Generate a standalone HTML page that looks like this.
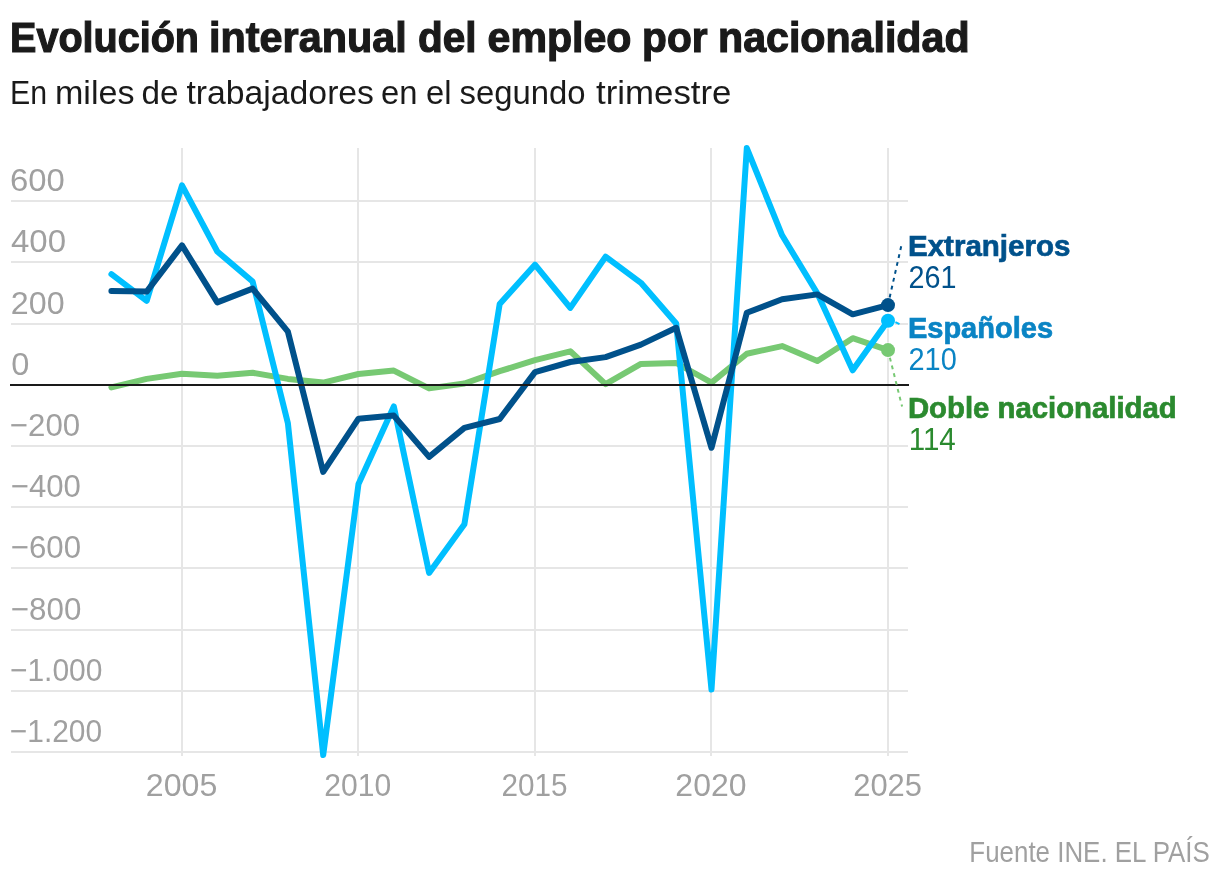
<!DOCTYPE html>
<html lang="es"><head><meta charset="utf-8"><title>Evolución interanual del empleo por nacionalidad</title>
<style>
html,body{margin:0;padding:0;background:#fff;}
body{width:1220px;height:882px;overflow:hidden;font-family:"Liberation Sans",Arial,sans-serif;}
svg{display:block;}
text{font-family:"Liberation Sans",Arial,sans-serif;}
.b{font-weight:bold;}
</style></head><body>
<svg width="1220" height="882" viewBox="0 0 1220 882">
<rect width="1220" height="882" fill="#fff"/>
<text x="10.00" y="52.00" font-size="43" fill="#1a1a1a" class="b" stroke="#1a1a1a" stroke-width="1.2" textLength="189.00" lengthAdjust="spacingAndGlyphs">Evolución</text>
<text x="209.05" y="52.00" font-size="43" fill="#1a1a1a" class="b" stroke="#1a1a1a" stroke-width="1.2" textLength="197.59" lengthAdjust="spacingAndGlyphs">interanual</text>
<text x="417.97" y="52.00" font-size="43" fill="#1a1a1a" class="b" stroke="#1a1a1a" stroke-width="1.2" textLength="58.56" lengthAdjust="spacingAndGlyphs">del</text>
<text x="487.52" y="52.00" font-size="43" fill="#1a1a1a" class="b" stroke="#1a1a1a" stroke-width="1.2" textLength="143.96" lengthAdjust="spacingAndGlyphs">empleo</text>
<text x="642.09" y="52.00" font-size="43" fill="#1a1a1a" class="b" stroke="#1a1a1a" stroke-width="1.2" textLength="65.49" lengthAdjust="spacingAndGlyphs">por</text>
<text x="718.02" y="52.00" font-size="43" fill="#1a1a1a" class="b" stroke="#1a1a1a" stroke-width="1.2" textLength="251.52" lengthAdjust="spacingAndGlyphs">nacionalidad</text>
<text x="9.98" y="104.00" font-size="34" fill="#1a1a1a" textLength="37.07" lengthAdjust="spacingAndGlyphs">En</text>
<text x="55.00" y="104.00" font-size="34" fill="#1a1a1a" textLength="79.49" lengthAdjust="spacingAndGlyphs">miles</text>
<text x="141.54" y="104.00" font-size="34" fill="#1a1a1a" textLength="37.02" lengthAdjust="spacingAndGlyphs">de</text>
<text x="186.50" y="104.00" font-size="34" fill="#1a1a1a" textLength="187.48" lengthAdjust="spacingAndGlyphs">trabajadores</text>
<text x="381.00" y="104.00" font-size="34" fill="#1a1a1a" textLength="36.47" lengthAdjust="spacingAndGlyphs">en</text>
<text x="426.00" y="104.00" font-size="34" fill="#1a1a1a" textLength="25.48" lengthAdjust="spacingAndGlyphs">el</text>
<text x="459.51" y="104.00" font-size="34" fill="#1a1a1a" textLength="125.97" lengthAdjust="spacingAndGlyphs">segundo</text>
<text x="596.00" y="104.00" font-size="34" fill="#1a1a1a" textLength="135.44" lengthAdjust="spacingAndGlyphs">trimestre</text>
<rect x="181" y="148" width="2" height="608" fill="#e6e6e6"/>
<rect x="357" y="148" width="2" height="608" fill="#e6e6e6"/>
<rect x="534" y="148" width="2" height="608" fill="#e6e6e6"/>
<rect x="710" y="148" width="2" height="608" fill="#e6e6e6"/>
<rect x="887" y="148" width="2" height="608" fill="#e6e6e6"/>
<rect x="11" y="200" width="897" height="2" fill="#e6e6e6"/>
<rect x="11" y="261" width="897" height="2" fill="#e6e6e6"/>
<rect x="11" y="323" width="897" height="2" fill="#e6e6e6"/>
<rect x="11" y="445" width="897" height="2" fill="#e6e6e6"/>
<rect x="11" y="506" width="897" height="2" fill="#e6e6e6"/>
<rect x="11" y="567" width="897" height="2" fill="#e6e6e6"/>
<rect x="11" y="629" width="897" height="2" fill="#e6e6e6"/>
<rect x="11" y="690" width="897" height="2" fill="#e6e6e6"/>
<rect x="11" y="751" width="897" height="2" fill="#e6e6e6"/>
<text x="9.99" y="191.00" font-size="31.7" fill="#a0a0a0" textLength="54.81" lengthAdjust="spacingAndGlyphs">600</text>
<text x="10.98" y="252.30" font-size="31.7" fill="#a0a0a0" textLength="55.02" lengthAdjust="spacingAndGlyphs">400</text>
<text x="10.84" y="313.50" font-size="31.7" fill="#a0a0a0" textLength="53.73" lengthAdjust="spacingAndGlyphs">200</text>
<text x="11.38" y="374.70" font-size="31.7" fill="#a0a0a0" textLength="18.12" lengthAdjust="spacingAndGlyphs">0</text>
<text x="9.85" y="435.90" font-size="31.7" fill="#a0a0a0" textLength="70.36" lengthAdjust="spacingAndGlyphs">−200</text>
<text x="10.82" y="497.10" font-size="31.7" fill="#a0a0a0" textLength="70.12" lengthAdjust="spacingAndGlyphs">−400</text>
<text x="10.78" y="558.40" font-size="31.7" fill="#a0a0a0" textLength="70.24" lengthAdjust="spacingAndGlyphs">−600</text>
<text x="10.80" y="619.60" font-size="31.7" fill="#a0a0a0" textLength="70.57" lengthAdjust="spacingAndGlyphs">−800</text>
<text x="9.89" y="680.80" font-size="31.7" fill="#a0a0a0" textLength="92.58" lengthAdjust="spacingAndGlyphs">−1.000</text>
<text x="9.84" y="742.00" font-size="31.7" fill="#a0a0a0" textLength="92.29" lengthAdjust="spacingAndGlyphs">−1.200</text>
<text x="145.89" y="796.00" font-size="31.7" fill="#a0a0a0" textLength="71.50" lengthAdjust="spacingAndGlyphs">2005</text>
<text x="324.23" y="796.00" font-size="31.7" fill="#a0a0a0" textLength="66.92" lengthAdjust="spacingAndGlyphs">2010</text>
<text x="501.56" y="796.00" font-size="31.7" fill="#a0a0a0" textLength="66.03" lengthAdjust="spacingAndGlyphs">2015</text>
<text x="675.36" y="796.00" font-size="31.7" fill="#a0a0a0" textLength="71.11" lengthAdjust="spacingAndGlyphs">2020</text>
<text x="853.20" y="796.00" font-size="31.7" fill="#a0a0a0" textLength="68.79" lengthAdjust="spacingAndGlyphs">2025</text>
<circle cx="888.0" cy="350.1" r="7.7" fill="#fff"/>
<circle cx="888.0" cy="320.7" r="7.7" fill="#fff"/>
<circle cx="888.0" cy="305.1" r="7.7" fill="#fff"/>
<path d="M111.4,387.4 L146.7,378.9 L182.0,373.7 L217.3,375.8 L252.6,372.8 L287.9,378.9 L323.2,382.6 L358.5,374.0 L393.8,370.6 L429.1,388.4 L464.4,383.5 L499.7,371.2 L535.0,360.2 L570.3,351.3 L605.6,384.1 L640.9,363.9 L676.2,363.0 L711.5,382.6 L746.8,353.8 L782.1,346.1 L817.4,361.1 L852.7,338.2 L888.0,350.1" fill="none" stroke="#77c973" stroke-width="6" stroke-linejoin="round" stroke-linecap="round"/>
<path d="M111.4,274.2 L146.7,300.8 L182.0,185.4 L217.3,251.5 L252.6,281.5 L287.9,423.3 L323.2,755.1 L358.5,483.9 L393.8,406.4 L429.1,572.9 L464.4,524.3 L499.7,303.9 L535.0,264.7 L570.3,307.9 L605.6,256.7 L640.9,282.8 L676.2,323.5 L711.5,689.6 L746.8,148.1 L782.1,235.3 L817.4,293.5 L852.7,370.3 L888.0,320.7" fill="none" stroke="#00bfff" stroke-width="6" stroke-linejoin="round" stroke-linecap="round"/>
<path d="M111.4,291.0 L146.7,291.6 L182.0,245.4 L217.3,302.4 L252.6,288.6 L287.9,331.7 L323.2,471.9 L358.5,418.7 L393.8,415.6 L429.1,456.9 L464.4,427.9 L499.7,419.0 L535.0,372.1 L570.3,362.0 L605.6,357.1 L640.9,344.6 L676.2,327.8 L711.5,447.8 L746.8,312.8 L782.1,299.3 L817.4,294.4 L852.7,314.3 L888.0,305.1" fill="none" stroke="#00518b" stroke-width="6" stroke-linejoin="round" stroke-linecap="round"/>
<rect x="10" y="384.0" width="899" height="2" fill="#1a1a1a"/>
<path d="M901.2,246.3 L889.2,299.4" fill="none" stroke="#00518b" stroke-width="2" stroke-dasharray="3.8 4.3"/>
<path d="M895.4,322.2 L899.5,324.1" fill="none" stroke="#00bfff" stroke-width="2"/>
<path d="M889.9,357.7 L902.1,406.6" fill="none" stroke="#77c973" stroke-width="2" stroke-dasharray="3.8 4.25"/>
<circle cx="888.0" cy="350.1" r="7" fill="#77c973"/>
<circle cx="888.0" cy="320.7" r="7" fill="#00bfff"/>
<circle cx="888.0" cy="305.1" r="7" fill="#00518b"/>
<text x="908.00" y="255.80" font-size="29.6" fill="#00518b" class="b" stroke="#00518b" stroke-width="0.7" textLength="162.41" lengthAdjust="spacingAndGlyphs">Extranjeros</text>
<text x="908.49" y="288.00" font-size="30.7" fill="#00518b" textLength="47.94" lengthAdjust="spacingAndGlyphs">261</text>
<text x="907.91" y="337.60" font-size="29.6" fill="#0a84c4" class="b" stroke="#0a84c4" stroke-width="0.7" textLength="145.15" lengthAdjust="spacingAndGlyphs">Españoles</text>
<text x="908.49" y="370.00" font-size="30.7" fill="#0a84c4" textLength="48.24" lengthAdjust="spacingAndGlyphs">210</text>
<text x="907.89" y="417.80" font-size="29.6" fill="#2b8a2f" class="b" stroke="#2b8a2f" stroke-width="0.7" textLength="268.88" lengthAdjust="spacingAndGlyphs">Doble nacionalidad</text>
<text x="908.67" y="450.20" font-size="30.7" fill="#2b8a2f" textLength="47.11" lengthAdjust="spacingAndGlyphs">114</text>
<text x="969.37" y="861.70" font-size="29.5" fill="#a0a0a0" textLength="240.44" lengthAdjust="spacingAndGlyphs">Fuente INE. EL PAÍS</text>
</svg></body></html>
